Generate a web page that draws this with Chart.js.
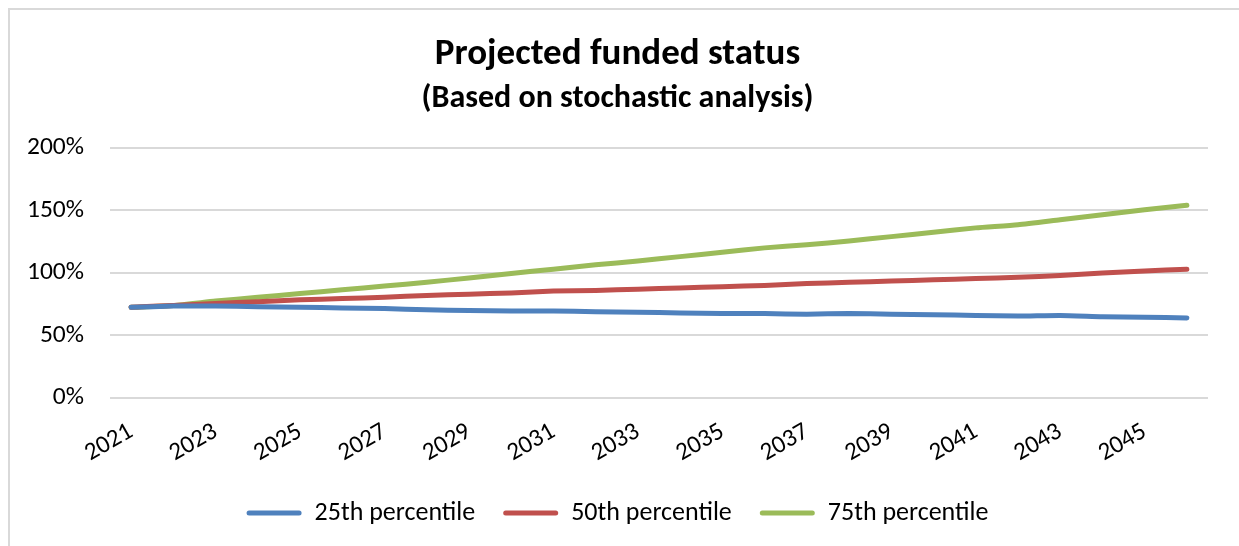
<!DOCTYPE html>
<html>
<head>
<meta charset="utf-8">
<script src="https://cdn.jsdelivr.net/npm/chart.js@4"></script>
<style>
  html, body { margin: 0; padding: 0; background: #fff; overflow: hidden; }
  #wrap {
    position: absolute; left: 8px; top: 8px;
    width: 1240px; height: 545px;
    border: 2px solid #d9d9d9; box-sizing: border-box;
  }
  canvas { display: block; }
</style>
</head>
<body>
<div id="wrap"><canvas id="chart"></canvas></div>
<script>
// ----- data -----
const years = [
  "2021", "2022", "2023", "2024", "2025", "2026", "2027", "2028", "2029", "2030",
  "2031", "2032", "2033", "2034", "2035", "2036", "2037", "2038", "2039", "2040",
  "2041", "2042", "2043", "2044", "2045", "2046"
];
const p25 = [
  72.5, 73.5, 73.5, 73, 72.5, 72, 71.5, 70.5, 70, 69.5,
  69.5, 69, 68.5, 68, 67.5, 67.5, 67, 67.5, 67, 66.5,
  66, 65.5, 66, 65, 64.5, 64
];
const p50 = [
  72.5, 74, 75.5, 77, 78.5, 79.5, 80.5, 82, 83, 84,
  85.5, 86, 87, 88, 89, 90, 91.5, 92.5, 93.5, 94.5,
  95.5, 96.5, 98, 100, 101.5, 103
];
const p75 = [
  72.5, 74, 77.5, 80.5, 83.5, 86.5, 89.5, 92.5, 96, 99.5,
  103, 106.5, 109.5, 113, 116.5, 120, 122.5, 125.5, 129, 132.5,
  136, 138.5, 142.5, 146.5, 150.5, 154
];
const yTicks = [0, 50, 100, 150, 200];

const FONT = "Carlito, Calibri, Lato, sans-serif";

function line(label, data, color) {
  return {
    label: label, data: data,
    borderColor: color, backgroundColor: color,
    borderWidth: 5, borderCapStyle: "round", borderJoinStyle: "round",
    pointRadius: 0, tension: 0.2, fill: false
  };
}

new Chart(document.getElementById("chart"), {
  type: "line",
  data: {
    labels: years,
    datasets: [
      line("25th percentile", p25, "#4f81bd"),
      line("50th percentile", p50, "#c0504d"),
      line("75th percentile", p75, "#9bbb59")
    ]
  },
  options: {
    responsive: true, maintainAspectRatio: false, animation: false,
    layout: { padding: { left: 17, right: 38, top: 15, bottom: 15 } },
    plugins: {
      title: {
        display: true, text: "Projected funded status", color: "#000",
        font: { family: FONT, size: 37, weight: "bold" },
        padding: { top: 8, bottom: 0 }
      },
      subtitle: {
        display: true, text: "(Based on stochastic analysis)", color: "#000",
        font: { family: FONT, size: 32, weight: "bold" },
        padding: { top: 2, bottom: 30 }
      },
      legend: {
        position: "bottom",
        labels: {
          color: "#000", font: { family: FONT, size: 26 },
          boxWidth: 55, boxHeight: 5, padding: 28, useBorderRadius: true, borderRadius: 2.5,
          generateLabels: function (chart) {
            return chart.data.datasets.map(function (ds, i) {
              return {
                text: ds.label, fillStyle: ds.borderColor, strokeStyle: ds.borderColor,
                lineWidth: 0, datasetIndex: i, fontColor: "#000", borderRadius: 2.5
              };
            });
          }
        }
      },
      tooltip: { enabled: false }
    },
    scales: {
      x: {
        offset: true,
        grid: { display: false },
        border: { display: false },
        // rotated labels hang over the y axis area; fix the band size by hand
        afterFit: function (scale) {
          scale.paddingLeft = 0; scale.paddingRight = 0;
          scale.height = 74;
        },
        ticks: {
          color: "#000", font: { family: FONT, size: 25 },
          autoSkip: false, minRotation: 30, maxRotation: 30, padding: 11,
          callback: function (v, i) { return i % 2 === 0 ? years[i] : ""; }
        }
      },
      y: {
        min: 0, max: 200,
        afterBuildTicks: function (axis) { axis.ticks = yTicks.map(v => ({ value: v })); },
        afterFit: function (scale) { scale.width = 83; },
        grid: { color: "#d9d9d9", lineWidth: 2, drawTicks: false },
        border: { display: false },
        ticks: {
          color: "#000", font: { family: FONT, size: 25.5 }, padding: 26,
          callback: function (v) { return v + "%"; }
        }
      }
    }
  }
});
</script>
</body>
</html>
